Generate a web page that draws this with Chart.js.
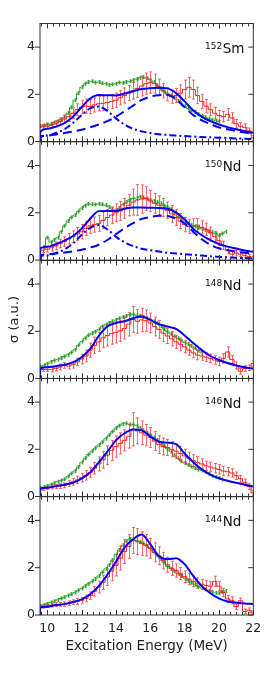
<!DOCTYPE html>
<html>
<head>
<meta charset="utf-8">
<script src="https://cdn.jsdelivr.net/npm/chart.js@4.4.1/dist/chart.umd.min.js"></script>
<style>
  html, body { margin: 0; padding: 0; background: #fff; }
  #wrap { position: relative; width: 273px; height: 679px; overflow: hidden; }
  #wrap div { position: absolute; left: 0; width: 273px; }
</style>
</head>
<body>
<div id="wrap"></div>
<script>
// energies (MeV)
const eFit = [9.58, 9.6, 10, 10.5, 11, 11.5, 12, 12.5, 13, 13.5, 14, 14.5, 15, 15.5, 16, 16.5, 17, 17.5, 18, 18.5, 19, 19.5, 20, 20.5, 21, 21.5, 22];
const eGreen = [9.6, 9.8, 10, 10.2, 10.4, 10.6, 10.8, 11, 11.2, 11.4, 11.6, 11.8, 12, 12.2, 12.4, 12.6, 12.8, 13, 13.2, 13.4,
  13.6, 13.8, 14, 14.2, 14.4, 14.6, 14.8, 15, 15.2, 15.4, 15.6, 15.8, 16, 16.2, 16.4, 16.6, 16.8, 17, 17.2, 17.4,
  17.6, 17.8, 18, 18.2, 18.4, 18.6, 18.8, 19, 19.2, 19.4, 19.6, 19.8, 20, 20.2, 20.4];
const eRed = [9.5, 9.75, 10, 10.25, 10.5, 10.75, 11, 11.25, 11.5, 11.75, 12, 12.25, 12.5, 12.75, 13, 13.25, 13.5, 13.75, 14, 14.25,
  14.5, 14.75, 15, 15.25, 15.5, 15.75, 16, 16.25, 16.5, 16.75, 17, 17.25, 17.5, 17.75, 18, 18.25, 18.5, 18.75, 19, 19.25,
  19.5, 19.75, 20, 20.25, 20.5, 20.75, 21, 21.25, 21.5, 21.75, 22];

const xTicks = [10, 12, 14, 16, 18, 20, 22];
const yTicks = [0, 2, 4];
const GREEN_ERR = 0.06;

// 152Sm
const green152 = [0.65,0.68,0.72,0.74,0.8,0.86,0.93,1.03,1.2,1.45,
  1.75,2.05,2.3,2.45,2.52,2.55,2.5,2.52,2.47,2.45,
  2.4,2.42,2.45,2.5,2.48,2.52,2.55,2.6,2.65,2.7,
  2.72,2.68,2.62,2.52,2.38,2.25,2.12,2.02,1.95,1.85,
  1.72,1.6,1.5,1.4,1.32,1.25,1.17,1.1,1.03,0.97,
  0.92,0.88,0.85,null,null];
const red152 = [0.6,0.62,0.65,0.7,0.75,0.85,0.95,1.05,1.2,1.35,
  1.45,1.5,1.48,1.55,1.6,1.62,1.65,1.7,1.75,1.85,
  1.95,2.05,2.15,2.25,2.35,2.45,2.5,2.45,2.3,2.15,
  2.0,1.9,1.95,2.05,2.2,2.3,2.2,1.95,1.7,1.5,
  1.35,1.2,1.1,1.05,1.15,1.0,0.75,0.65,0.6,0.45,
  0.15];
const redErr152 = [0.1,0.1,0.12,0.12,0.14,0.15,0.18,0.2,0.22,0.25,
  0.28,0.3,0.3,0.3,0.3,0.3,0.3,0.3,0.3,0.3,
  0.32,0.32,0.35,0.38,0.42,0.45,0.45,0.4,0.35,0.3,
  0.28,0.28,0.3,0.35,0.4,0.42,0.4,0.35,0.3,0.28,
  0.25,0.25,0.22,0.22,0.25,0.22,0.18,0.15,0.15,0.12,
  0.1];
const fit152 = [0,0.42,0.54,0.63,0.78,1.05,1.45,1.82,1.97,1.96,1.95,2.03,2.13,2.22,2.26,2.28,2.25,2.05,1.7,1.32,1.04,0.86,0.72,0.61,0.52,0.44,0.37];
const low152 = [0,0.18,0.25,0.36,0.52,0.78,1.12,1.4,1.48,1.3,0.98,0.72,0.54,0.43,0.36,0.31,0.28,0.25,0.23,0.21,0.19,0.18,0.16,0.15,0.13,0.12,0.1];
const high152 = [0,0.22,0.25,0.3,0.36,0.42,0.5,0.6,0.72,0.86,1.05,1.28,1.52,1.76,1.9,1.96,1.97,1.8,1.45,1.12,0.9,0.74,0.6,0.52,0.44,0.38,0.33];

// 150Nd
const green150 = [null,0.55,0.95,0.75,0.85,0.95,1.2,1.45,1.65,1.8,
  1.9,2.05,2.2,2.3,2.38,2.36,2.35,2.38,2.36,2.32,
  2.25,2.15,2.1,2.2,2.35,2.45,2.55,2.6,2.62,2.68,
  2.65,2.6,2.55,2.5,2.45,2.4,2.3,2.25,2.15,2.0,
  1.85,1.75,1.65,1.55,1.48,1.42,1.36,1.32,1.28,1.22,
  1.18,1.12,1.05,1.12,1.2];
const red150 = [0.42,0.42,0.46,0.52,0.6,0.7,0.78,0.9,0.99,1.1,
  1.2,1.34,1.45,1.5,1.55,1.68,1.8,1.9,2.0,2.08,
  2.19,2.32,2.45,2.54,2.58,2.6,2.5,2.4,2.32,2.22,
  2.1,1.95,1.8,1.65,1.5,1.42,1.45,1.48,1.38,1.3,
  1.15,1.0,0.82,0.62,0.42,0.25,0.3,0.25,0.2,0.15,
  0.08];
const redErr150 = [0.1,0.1,0.12,0.14,0.16,0.18,0.2,0.22,0.25,0.28,
  0.3,0.3,0.32,0.32,0.33,0.35,0.35,0.35,0.38,0.4,
  0.42,0.45,0.55,0.65,0.6,0.5,0.45,0.42,0.4,0.38,
  0.35,0.35,0.33,0.32,0.3,0.3,0.3,0.28,0.28,0.26,
  0.25,0.22,0.2,0.18,0.15,0.12,0.12,0.1,0.1,0.08,
  0.08];
const fit150 = [0,0.5,0.56,0.67,0.82,1.02,1.33,1.75,2.07,2.08,2.08,2.17,2.22,2.22,2.21,2.2,2.17,2.02,1.72,1.32,1.05,0.84,0.68,0.57,0.49,0.41,0.35];
const low150 = [0,0.15,0.2,0.3,0.45,0.7,1.06,1.36,1.48,1.3,0.99,0.75,0.59,0.48,0.42,0.36,0.31,0.28,0.25,0.22,0.19,0.16,0.14,0.12,0.1,0.08,0.07];
const high150 = [0,0.21,0.24,0.28,0.32,0.37,0.44,0.53,0.65,0.85,1.1,1.35,1.56,1.74,1.82,1.87,1.86,1.75,1.55,1.2,0.88,0.65,0.5,0.42,0.36,0.31,0.27];

// 148Nd
const green148 = [0.5,0.55,0.62,0.7,0.76,0.8,0.86,0.93,1.0,1.1,
  1.22,1.4,1.56,1.7,1.83,1.92,1.98,2.08,2.2,2.28,
  2.35,2.42,2.48,2.55,2.6,2.65,2.7,2.72,2.68,2.65,
  2.6,2.55,2.5,2.42,2.35,2.22,2.1,1.98,1.88,1.78,
  1.7,1.6,1.52,1.46,1.38,1.28,1.18,1.08,null,null,
  null,null,null,null,null];
const red148 = [0.38,0.38,0.37,0.38,0.42,0.48,0.55,0.52,0.58,0.7,
  0.82,0.95,1.2,1.4,1.55,1.72,1.82,1.9,1.95,2.02,
  2.12,2.3,2.5,2.42,2.48,2.45,2.35,2.2,2.08,1.92,
  1.8,1.68,1.55,1.45,1.34,1.2,1.08,0.99,0.95,0.9,
  0.85,0.78,0.72,0.85,1.12,0.8,0.55,0.3,0.42,0.45,
  0.63];
const redErr148 = [0.08,0.08,0.08,0.1,0.1,0.12,0.12,0.12,0.14,0.16,
  0.2,0.25,0.3,0.35,0.4,0.42,0.45,0.45,0.45,0.45,
  0.45,0.5,0.55,0.5,0.5,0.45,0.42,0.4,0.38,0.35,
  0.32,0.3,0.28,0.26,0.25,0.22,0.2,0.2,0.18,0.18,
  0.18,0.18,0.18,0.2,0.22,0.18,0.15,0.12,0.12,0.12,
  0.12];
const fit148 = [0,0.43,0.47,0.52,0.58,0.68,0.9,1.25,1.8,2.2,2.35,2.42,2.55,2.63,2.48,2.3,2.2,2.1,1.82,1.5,1.2,0.95,0.78,0.65,0.55,0.47,0.41];

// 146Nd
const green146 = [0.36,0.4,0.44,0.5,0.56,0.63,0.68,0.73,0.85,0.97,
  1.08,1.25,1.45,1.62,1.78,1.92,2.05,2.18,2.3,2.45,
  2.6,2.75,2.9,3.0,3.08,3.1,3.06,3.05,3.0,2.9,
  2.8,2.7,2.62,2.5,2.4,2.28,2.14,2.02,1.9,1.75,
  1.62,1.5,1.42,1.34,1.27,1.2,1.14,1.1,1.05,0.96,
  0.88,0.82,0.78,0.72,null];
const red146 = [0.3,0.32,0.36,0.4,0.42,0.44,0.47,0.55,0.62,0.7,
  0.8,0.9,1.02,1.2,1.38,1.55,1.75,1.95,2.12,2.25,
  2.38,2.55,2.85,2.78,2.7,2.6,2.5,2.35,2.2,2.12,
  2.08,2.0,1.92,1.82,1.72,1.62,1.52,1.45,1.38,1.3,
  1.25,1.2,1.15,1.08,1.05,1.0,0.88,0.75,0.6,0.42,
  0.15];
const redErr146 = [0.06,0.06,0.06,0.08,0.08,0.1,0.1,0.12,0.14,0.16,
  0.18,0.2,0.22,0.25,0.3,0.35,0.4,0.42,0.45,0.45,
  0.45,0.5,0.7,0.55,0.5,0.45,0.42,0.4,0.38,0.36,
  0.34,0.32,0.3,0.3,0.28,0.26,0.25,0.24,0.22,0.2,
  0.2,0.2,0.2,0.2,0.18,0.18,0.16,0.15,0.14,0.12,
  0.1];
const fit146 = [0,0.34,0.37,0.44,0.5,0.58,0.76,1.02,1.45,1.9,2.38,2.68,2.84,2.8,2.55,2.32,2.28,2.22,1.82,1.45,1.15,0.93,0.78,0.67,0.58,0.5,0.42];

// 144Nd
const green144 = [0.4,0.43,0.47,0.53,0.58,0.64,0.7,0.75,0.82,0.88,
  0.95,1.04,1.12,1.22,1.32,1.42,1.52,1.65,1.8,1.95,
  2.12,2.32,2.55,2.75,2.95,3.12,3.22,3.2,3.15,3.1,
  3.02,2.92,2.8,2.65,2.52,2.38,2.22,2.05,1.95,1.85,
  1.75,1.65,1.55,1.45,1.36,1.28,1.2,1.14,1.08,1.02,
  0.98,0.94,0.92,0.98,1.02];
const red144 = [0.33,0.35,0.38,0.42,0.44,0.45,0.46,0.5,0.54,0.58,
  0.62,0.7,0.82,1.0,1.18,1.38,1.6,1.85,2.1,2.4,
  2.68,2.9,3.15,3.1,3.02,2.95,2.82,2.65,2.5,2.3,
  2.12,1.97,1.88,1.75,1.62,1.52,1.42,1.35,1.3,1.25,
  1.22,1.42,1.22,0.95,0.68,0.62,0.35,0.6,0.15,0.2,
  0.08];
const redErr144 = [0.06,0.06,0.06,0.08,0.08,0.08,0.1,0.1,0.1,0.12,
  0.12,0.14,0.16,0.2,0.25,0.3,0.35,0.4,0.45,0.5,
  0.5,0.5,0.55,0.55,0.5,0.45,0.42,0.4,0.38,0.35,
  0.32,0.3,0.28,0.26,0.25,0.24,0.22,0.22,0.2,0.2,
  0.2,0.22,0.2,0.18,0.15,0.15,0.12,0.12,0.1,0.1,
  0.08];
const fit144 = [0,0.33,0.35,0.42,0.46,0.55,0.66,0.88,1.22,1.7,2.25,2.85,3.2,3.4,3.0,2.48,2.36,2.4,2.15,1.65,1.22,0.92,0.7,0.57,0.52,0.49,0.47];

const panels = [
  { sup: '152', el: 'Sm', green: green152, red: red152, redErr: redErr152, fit: fit152, low: low152, high: high152 },
  { sup: '150', el: 'Nd', green: green150, red: red150, redErr: redErr150, fit: fit150, low: low150, high: high150 },
  { sup: '148', el: 'Nd', green: green148, red: red148, redErr: redErr148, fit: fit148 },
  { sup: '146', el: 'Nd', green: green146, red: red146, redErr: redErr146, fit: fit146 },
  { sup: '144', el: 'Nd', green: green144, red: red144, redErr: redErr144, fit: fit144 }
];

const X_MIN = 9.58, X_MAX = 22;
const PANEL_TOP = 23.5, PANEL_H = 118.3;
const FONT = 'DejaVu Sans';

Chart.defaults.font.family = FONT;
Chart.defaults.color = '#222';

function pts(xs, ys) {
  return xs.map((x, i) => ({ x: x, y: ys[i] }));
}

// error bars, frame, inward ticks and nucleus label
const framePlugin = {
  id: 'frame',
  beforeDatasetDraw(chart, args) {
    const ds = chart.data.datasets[args.index];
    if (ds.err === undefined) return;
    const { ctx, chartArea: a } = chart;
    const x = chart.scales.x, y = chart.scales.y;
    ctx.save();
    ctx.beginPath();
    ctx.rect(a.left, a.top, a.right - a.left, a.bottom - a.top);
    ctx.clip();
    ctx.strokeStyle = ds.errColor;
    ctx.lineWidth = 1;
    ctx.beginPath();
    ds.data.forEach((p, i) => {
      if (p.y === null) return;
      const e = Array.isArray(ds.err) ? ds.err[i] : ds.err;
      const px = Math.round(x.getPixelForValue(p.x)) + 0.5;
      const y1 = y.getPixelForValue(p.y - e), y2 = y.getPixelForValue(p.y + e);
      const c = ds.cap;
      ctx.moveTo(px, y1); ctx.lineTo(px, y2);
      ctx.moveTo(px - c, y1); ctx.lineTo(px + c, y1);
      ctx.moveTo(px - c, y2); ctx.lineTo(px + c, y2);
    });
    ctx.stroke();
    ctx.restore();
  },
  afterDraw(chart, args, opts) {
    const { ctx, chartArea: a } = chart;
    const x = chart.scales.x, y = chart.scales.y;
    ctx.save();
    ctx.strokeStyle = '#333';
    ctx.lineWidth = 1;
    ctx.strokeRect(a.left, a.top, a.right - a.left, a.bottom - a.top);
    ctx.beginPath();
    for (let k = 28; k <= 66; k++) {
      const v = k / 3;
      if (v < x.min || v > x.max) continue;
      const px = Math.round(x.getPixelForValue(v)) + 0.5;
      const len = k % 6 === 0 ? 5 : 3;
      ctx.moveTo(px, a.bottom); ctx.lineTo(px, a.bottom - len);
      ctx.moveTo(px, a.top); ctx.lineTo(px, a.top + len);
    }
    yTicks.forEach(v => {
      const py = y.getPixelForValue(v);
      ctx.moveTo(a.left - 5, py); ctx.lineTo(a.left, py);
      ctx.moveTo(a.right, py); ctx.lineTo(a.right - 5, py);
    });
    ctx.stroke();
    ctx.fillStyle = '#111';
    ctx.textBaseline = 'alphabetic';
    ctx.textAlign = 'left';
    ctx.font = '9px "' + FONT + '"';
    ctx.fillText(opts.sup, 205, a.top + 25);
    const w = ctx.measureText(opts.sup).width;
    ctx.font = '13.5px "' + FONT + '"';
    ctx.fillText(opts.el, 205 + w + 0.5, a.top + 29.5);
    ctx.restore();
  }
};

const wrap = document.getElementById('wrap');

panels.forEach((p, i) => {
  const last = i === panels.length - 1;
  const pTop = PANEL_TOP + i * PANEL_H;
  const pBot = pTop + PANEL_H;
  const cTop = Math.floor(pTop) - 12;
  const cBot = last ? 679 : Math.ceil(pBot) + 12;

  const box = document.createElement('div');
  box.style.top = cTop + 'px';
  box.style.height = (cBot - cTop) + 'px';
  const cv = document.createElement('canvas');
  box.appendChild(cv);
  wrap.appendChild(box);

  const datasets = [
    { data: pts(eFit, p.fit), borderColor: '#0000ff', borderWidth: 2, cubicInterpolationMode: 'monotone', order: 1 }
  ];
  if (p.low) {
    datasets.push({ data: pts(eFit, p.low), borderColor: '#0000ff', borderWidth: 2, borderDash: [7, 3, 2, 3], cubicInterpolationMode: 'monotone', order: 1 });
    datasets.push({ data: pts(eFit, p.high), borderColor: '#0000ff', borderWidth: 2, borderDash: [9, 5], cubicInterpolationMode: 'monotone', order: 1 });
  }
  datasets.push({ data: pts(eRed, p.red), err: p.redErr, cap: 1.5, errColor: 'rgba(255,40,40,0.7)', borderColor: '#ff1a1a', borderWidth: 1, stepped: 'middle', order: 2 });
  datasets.push({ data: pts(eGreen, p.green), err: GREEN_ERR, cap: 1, errColor: '#2ca02c', borderColor: '#2ca02c', borderWidth: 1, stepped: 'middle', spanGaps: false, order: 3 });

  new Chart(cv, {
    type: 'line',
    data: { datasets: datasets },
    plugins: [framePlugin],
    options: {
      responsive: true,
      maintainAspectRatio: false,
      animation: false,
      events: [],
      layout: { padding: { left: 0, right: 19.7, top: pTop - cTop, bottom: last ? 0 : cBot - pBot } },
      elements: { point: { radius: 0 }, line: { tension: 0 } },
      plugins: {
        legend: { display: false },
        tooltip: { enabled: false },
        frame: { sup: p.sup, el: p.el }
      },
      scales: {
        x: {
          type: 'linear',
          min: X_MIN,
          max: X_MAX,
          display: last,
          grid: { display: false, drawTicks: false },
          border: { display: false },
          afterBuildTicks: s => { s.ticks = xTicks.map(v => ({ value: v })); },
          afterFit: s => { if (last) s.height = 679 - 615; },
          ticks: { font: { size: 12.5 }, padding: 6, maxRotation: 0 },
          title: {
            display: true,
            text: 'Excitation Energy (MeV)',
            font: { size: 13.5 },
            padding: { top: 0, bottom: 24.2 }
          }
        },
        y: {
          min: 0,
          max: 5,
          grid: { display: false, drawTicks: false },
          border: { display: false },
          afterBuildTicks: s => { s.ticks = yTicks.map(v => ({ value: v })); },
          afterFit: s => { s.width = 40; },
          ticks: { font: { size: 12.5 }, padding: 5 },
          title: {
            display: i === 2,
            text: 'σ (a.u.)',
            font: { size: 13 },
            padding: { top: 7, bottom: 0 }
          }
        }
      }
    }
  });
});
</script>
</body>
</html>
